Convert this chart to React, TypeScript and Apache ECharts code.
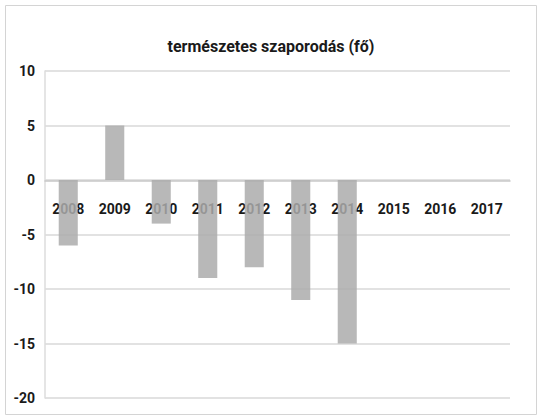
import React, { useEffect, useRef } from "react";
import * as echarts from "echarts";

const titleText = "természetes szaporodás (fő)";
const years = ["2008", "2009", "2010", "2011", "2012", "2013", "2014", "2015", "2016", "2017"];
const values: (number | null)[] = [-6, 5, -4, -9, -8, -11, -15, null, null, null];
const yMin = -20;
const yMax = 10;
const yStep = 5;

export default function App() {
  const ref = useRef<HTMLDivElement>(null);
  useEffect(() => {
    if (!ref.current) return;
    const chart = echarts.init(ref.current, null, { renderer: "svg" });
    const font = "Roboto, 'Liberation Sans', sans-serif";
    chart.setOption({
      animation: false,
      backgroundColor: "#ffffff",
      title: {
        text: titleText,
        left: "center",
        top: 33,
        textStyle: { fontFamily: font, fontSize: 16, fontWeight: "bold", color: "#1a1a1a" },
      },
      graphic: [
        {
          type: "rect",
          shape: { x: 5.5, y: 5.5, width: 531, height: 409 },
          style: { fill: "none", stroke: "#d4d4d4", lineWidth: 1 },
          silent: true,
        },
      ],
      grid: { left: 45, right: 32, top: 71, bottom: 21, containLabel: false },
      xAxis: {
        type: "category",
        data: years,
        offset: -217,
        axisLine: { onZero: false, lineStyle: { color: "#c8c8c8", width: 1.5 } },
        axisTick: { show: false },
        axisLabel: {
          interval: 0,
          margin: 21,
          fontFamily: font,
          fontSize: 14,
          fontWeight: "bold",
          color: "#1a1a1a",
        },
        z: 1,
      },
      yAxis: {
        type: "value",
        min: yMin,
        max: yMax,
        interval: yStep,
        axisLine: { show: true, lineStyle: { color: "#dcdcdc", width: 1.5 } },
        axisTick: { show: false },
        splitLine: { lineStyle: { color: "#d8d8d8", width: 1.5 } },
        axisLabel: {
          margin: 10,
          fontFamily: font,
          fontSize: 14,
          fontWeight: "bold",
          color: "#1a1a1a",
        },
      },
      series: [
        {
          type: "bar",
          data: values,
          barWidth: "41%",
          itemStyle: { color: "#ababab", opacity: 0.85 },
          z: 3,
        },
      ],
    });
    return () => chart.dispose();
  }, []);
  return (
    <div
      ref={ref}
      style={{ position: "fixed", left: 0, top: 0, width: 542, height: 419 }}
    />
  );
}
